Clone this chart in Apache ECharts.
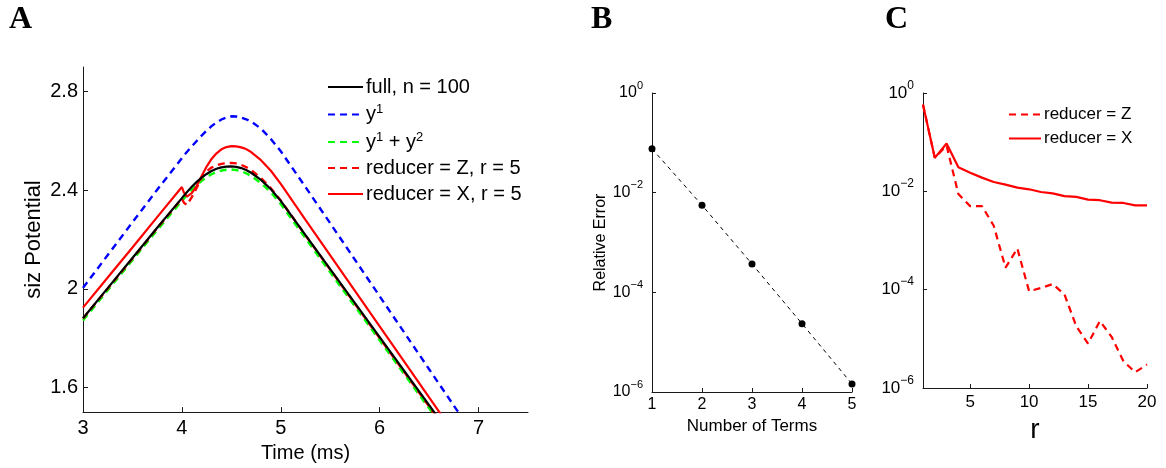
<!DOCTYPE html>
<html>
<head>
<meta charset="utf-8">
<script src="https://cdn.jsdelivr.net/npm/echarts@6/dist/echarts.min.js"></script>
<style>
html,body{margin:0;padding:0;background:#fff;}
#chart{width:1166px;height:468px;}
</style>
</head>
<body>
<div id="chart"></div>
<script>
// ---------- Panel A data ----------
const timeA = [3.0, 3.25, 3.5, 3.75, 4.0, 4.02, 4.05, 4.1, 4.15, 4.2, 4.25, 4.3, 4.35, 4.4, 4.45, 4.5, 4.55, 4.6, 4.65, 4.7, 4.8, 4.9, 5.0, 5.25, 5.5, 5.75, 6.0, 6.25, 6.5, 6.6, 6.75, 6.8];
const fullA = [1.881, 2.003, 2.125, 2.248, 2.368, 2.378, 2.392, 2.414, 2.434, 2.451, 2.466, 2.478, 2.487, 2.493, 2.496, 2.497, 2.495, 2.490, 2.482, 2.471, 2.442, 2.404, 2.357, 2.218, 2.080, 1.942, 1.804, 1.666, 1.528, 1.473, 1.390, 1.363];
const y1A = [2.004, 2.137, 2.270, 2.402, 2.530, 2.540, 2.555, 2.578, 2.600, 2.622, 2.642, 2.660, 2.675, 2.687, 2.695, 2.700, 2.699, 2.695, 2.688, 2.679, 2.650, 2.608, 2.558, 2.413, 2.266, 2.118, 1.970, 1.822, 1.674, 1.615, 1.526, 1.497];
const y12A = [1.872, 1.994, 2.116, 2.238, 2.357, 2.366, 2.380, 2.402, 2.421, 2.438, 2.453, 2.465, 2.474, 2.480, 2.483, 2.484, 2.482, 2.477, 2.469, 2.458, 2.429, 2.391, 2.344, 2.205, 2.067, 1.929, 1.791, 1.653, 1.515, 1.460, 1.377, 1.350];
const redZA = [1.880, 2.001, 2.123, 2.246, 2.366, 2.350, 2.340, 2.372, 2.410, 2.452, 2.477, 2.492, 2.501, 2.507, 2.510, 2.511, 2.509, 2.503, 2.494, 2.482, 2.450, 2.408, 2.358, 2.217, 2.078, 1.939, 1.800, 1.662, 1.523, 1.467, 1.384, 1.356];
const redXA = [1.924, 2.046, 2.168, 2.291, 2.413, 2.391, 2.374, 2.388, 2.418, 2.458, 2.496, 2.527, 2.550, 2.566, 2.575, 2.579, 2.578, 2.574, 2.567, 2.555, 2.522, 2.479, 2.426, 2.280, 2.136, 1.992, 1.848, 1.704, 1.560, 1.502, 1.416, 1.387];
const yTicksA = [1.6, 2.0, 2.4, 2.8];
const xTicksA = [3, 4, 5, 6, 7];

// ---------- Panel B data ----------
const termsB = [1, 2, 3, 4, 5];
const errB = [0.076, 0.0056, 3.7e-4, 2.35e-5, 1.45e-6];

// ---------- Panel C data ----------
const rC = [1, 2, 3, 4, 5, 6, 7, 8, 9, 10, 11, 12, 13, 14, 15, 16, 17, 18, 19, 20];
const errZC = [0.58, 0.048, 0.085, 0.0088, 0.005, 0.005, 0.002, 2.8e-4, 6.9e-4, 9.3e-5, 1.08e-4, 1.3e-4, 8e-5, 1.8e-5, 8e-6, 2.3e-5, 1.1e-5, 3.5e-6, 2.1e-6, 3e-6];
const errXC = [0.58, 0.048, 0.094, 0.031, 0.024, 0.019, 0.0155, 0.0137, 0.0119, 0.011, 0.0097, 0.0091, 0.0080, 0.0077, 0.0068, 0.0066, 0.0059, 0.0058, 0.0052, 0.0052];
const xTicksC = [5, 10, 15, 20];

const FONT = 'Liberation Sans';
const AX = '#1a1a1a';

function pairs(xs, ys) { return xs.map((x, i) => [x, ys[i]]); }
function logLabel(v) {
  const e = Math.round(Math.log10(v));
  return '{b|10}{s|' + (e < 0 ? '\u2212' + (-e) : String(e)) + '}';
}
function supRich(base, sup, raise) {
  return {
    b: { fontSize: base, fontFamily: FONT, color: '#000', lineHeight: base, verticalAlign: 'bottom' },
    s: { fontSize: sup, fontFamily: FONT, color: '#000', lineHeight: sup, padding: [0, 0, raise, 0], verticalAlign: 'bottom' }
  };
}
const axisLineS = { show: true, lineStyle: { color: AX, width: 1 } };
const DASH = [7, 5];

const chart = echarts.init(document.getElementById('chart'), null, { renderer: 'canvas' });

const option = {
  animation: false,
  backgroundColor: '#fff',
  textStyle: { fontFamily: FONT },
  graphic: [
    { type: 'text', left: 9, top: 4, style: { text: 'A', font: 'bold 32px "Liberation Serif"', fill: '#000' } },
    { type: 'text', left: 591, top: 4, style: { text: 'B', font: 'bold 32px "Liberation Serif"', fill: '#000' } },
    { type: 'text', left: 885, top: 4, style: { text: 'C', font: 'bold 32px "Liberation Serif"', fill: '#000' } }
  ],
  grid: [
    { left: 83, right: 638, top: 67, bottom: 52 },
    { left: 652, right: 314, top: 93, bottom: 76 },
    { left: 923, right: 19, top: 93, bottom: 80 }
  ],
  legend: [
    {
      orient: 'vertical', left: 322, top: 72, itemWidth: 35, itemHeight: 14, itemGap: 6,
      selectedMode: false,
      itemStyle: { opacity: 0 },
      data: ['full, n = 100', 'y1', 'y1 + y2', 'reducer = Z, r = 5', 'reducer = X, r = 5'],
      formatter: function (n) {
        if (n === 'y1') return 'y{s|1}';
        if (n === 'y1 + y2') return 'y{s|1} + y{s|2}';
        return n;
      },
      textStyle: {
        fontSize: 20, fontFamily: FONT, color: '#000', padding: [0, 0, 0, -2],
        rich: { s: { fontSize: 13, fontFamily: FONT, color: '#000', padding: [0, 0, 10, 0] } }
      }
    },
    {
      orient: 'vertical', left: 1003, top: 101, itemWidth: 32, itemHeight: 14, itemGap: 7,
      selectedMode: false,
      itemStyle: { opacity: 0 },
      data: ['reducer = Z', 'reducer = X'],
      textStyle: { fontSize: 17, fontFamily: FONT, color: '#000', padding: [0, 0, 0, -2] }
    }
  ],
  xAxis: [
    {
      gridIndex: 0, type: 'value', min: 3, max: 7.5, interval: 1,
      name: 'Time (ms)', nameLocation: 'middle', nameGap: 21,
      nameTextStyle: { fontSize: 20, fontFamily: FONT, color: '#000' },
      axisLine: axisLineS,
      axisTick: { show: true, inside: true, length: 5, customValues: xTicksA, lineStyle: { color: AX } },
      axisLabel: { fontSize: 20, fontFamily: FONT, color: '#000', margin: 6, customValues: xTicksA },
      splitLine: { show: false }
    },
    {
      gridIndex: 1, type: 'value', min: 1, max: 5, interval: 1,
      name: 'Number of Terms', nameLocation: 'middle', nameGap: 20,
      nameTextStyle: { fontSize: 17, fontFamily: FONT, color: '#000' },
      axisLine: axisLineS,
      axisTick: { show: true, inside: true, length: 4, lineStyle: { color: AX } },
      axisLabel: { fontSize: 16, fontFamily: FONT, color: '#000', margin: 5 },
      splitLine: { show: false }
    },
    {
      gridIndex: 2, type: 'value', min: 1, max: 20,
      name: 'r', nameLocation: 'middle', nameGap: 14,
      nameTextStyle: { fontSize: 28, fontFamily: FONT, color: '#000' },
      axisLine: axisLineS,
      axisTick: { show: true, inside: true, length: 4, customValues: xTicksC, lineStyle: { color: AX } },
      axisLabel: { fontSize: 17, fontFamily: FONT, color: '#000', margin: 6, customValues: xTicksC },
      splitLine: { show: false }
    }
  ],
  yAxis: [
    {
      gridIndex: 0, type: 'value', min: 1.5, max: 2.9,
      name: 'siz Potential', nameLocation: 'middle', nameGap: 38,
      nameTextStyle: { fontSize: 22, fontFamily: FONT, color: '#000' },
      axisLine: axisLineS,
      axisTick: { show: true, inside: true, length: 5, customValues: yTicksA, lineStyle: { color: AX } },
      axisLabel: { fontSize: 20, fontFamily: FONT, color: '#000', margin: 5, customValues: yTicksA,
        formatter: v => String(Math.round(v * 10) / 10) },
      splitLine: { show: false }
    },
    {
      gridIndex: 1, type: 'log', logBase: 10, min: 1e-6, max: 1, interval: 2,
      name: 'Relative Error', nameLocation: 'middle', nameGap: 38,
      nameTextStyle: { fontSize: 16, fontFamily: FONT, color: '#000' },
      axisLine: axisLineS,
      axisTick: { show: true, inside: true, length: 4, lineStyle: { color: AX } },
      minorTick: { show: false },
      axisLabel: { margin: 9, formatter: logLabel, rich: supRich(16, 11, 10) },
      splitLine: { show: false }
    },
    {
      gridIndex: 2, type: 'log', logBase: 10, min: 1e-6, max: 1, interval: 2,
      axisLine: axisLineS,
      axisTick: { show: true, inside: true, length: 4, lineStyle: { color: AX } },
      minorTick: { show: false },
      axisLabel: { margin: 9, formatter: logLabel, rich: supRich(17, 12, 10) },
      splitLine: { show: false }
    }
  ],
  series: [
    { name: 'full, n = 100', type: 'line', xAxisIndex: 0, yAxisIndex: 0, symbol: 'none',
      data: pairs(timeA, fullA), lineStyle: { color: '#000', width: 2.2 }, itemStyle: { color: '#000' }, z: 3 },
    { name: 'y1', type: 'line', xAxisIndex: 0, yAxisIndex: 0, symbol: 'none',
      data: pairs(timeA, y1A), lineStyle: { color: '#0000ff', width: 2.4, type: DASH }, itemStyle: { color: '#0000ff' }, z: 2 },
    { name: 'y1 + y2', type: 'line', xAxisIndex: 0, yAxisIndex: 0, symbol: 'none',
      data: pairs(timeA, y12A), lineStyle: { color: '#00ff00', width: 2.4, type: DASH }, itemStyle: { color: '#00ff00' }, z: 2 },
    { name: 'reducer = Z, r = 5', type: 'line', xAxisIndex: 0, yAxisIndex: 0, symbol: 'none',
      data: pairs(timeA, redZA), lineStyle: { color: '#ff0000', width: 2.4, type: DASH }, itemStyle: { color: '#ff0000' }, z: 2 },
    { name: 'reducer = X, r = 5', type: 'line', xAxisIndex: 0, yAxisIndex: 0, symbol: 'none',
      data: pairs(timeA, redXA), lineStyle: { color: '#ff0000', width: 2.2 }, itemStyle: { color: '#ff0000' }, z: 2 },

    { name: 'terms', type: 'line', xAxisIndex: 1, yAxisIndex: 1, symbol: 'circle', symbolSize: 7,
      data: pairs(termsB, errB), lineStyle: { color: '#000', width: 1, type: [4, 4] }, itemStyle: { color: '#000' } },

    { name: 'reducer = Z', type: 'line', xAxisIndex: 2, yAxisIndex: 2, symbol: 'none',
      data: pairs(rC, errZC), lineStyle: { color: '#ff0000', width: 2.2, type: DASH }, itemStyle: { color: '#ff0000' } },
    { name: 'reducer = X', type: 'line', xAxisIndex: 2, yAxisIndex: 2, symbol: 'none',
      data: pairs(rC, errXC), lineStyle: { color: '#ff0000', width: 2.2 }, itemStyle: { color: '#ff0000' } }
  ]
};
chart.setOption(option);
</script>
</body>
</html>
